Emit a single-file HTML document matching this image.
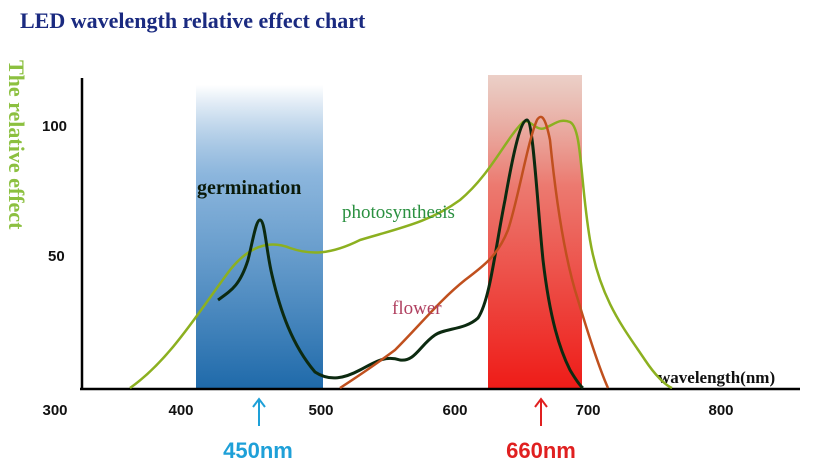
<!DOCTYPE html><html><head><style>body{margin:0;background:#fff}svg{display:block}</style></head><body>
<svg width="816" height="467" viewBox="0 0 816 467" xmlns="http://www.w3.org/2000/svg">
<defs>
<linearGradient id="b" x1="0" y1="0" x2="0" y2="1"><stop offset="0" stop-color="#3a80c0" stop-opacity="0"/><stop offset="0.3" stop-color="#6ea3d4" stop-opacity="0.8"/><stop offset="1" stop-color="#1f6aaa"/></linearGradient>
<linearGradient id="r" x1="0" y1="0" x2="0" y2="1"><stop offset="0" stop-color="#d8a090" stop-opacity="0.5"/><stop offset="0.35" stop-color="#ec7a70"/><stop offset="1" stop-color="#ee1c18"/></linearGradient>
</defs>
<rect width="816" height="467" fill="#fff"/>
<text x="20" y="28" font-family="Liberation Serif,serif" font-weight="bold" font-size="22" fill="#1a2a80">LED wavelength relative effect chart</text>
<text transform="translate(9,60) rotate(90)" font-family="Liberation Serif,serif" font-weight="bold" font-size="22" fill="#8cc040">The relative effect</text>
<rect x="196" y="85" width="127" height="303" fill="url(#b)"/>
<rect x="488" y="75" width="94" height="313" fill="url(#r)"/>
<line x1="82" y1="78" x2="82" y2="390" stroke="#000" stroke-width="2.5"/>
<line x1="80" y1="389" x2="800" y2="389" stroke="#000" stroke-width="2.5"/>
<g font-family="Liberation Sans,sans-serif" font-weight="bold" font-size="15" fill="#111">
<text x="42" y="131">100</text><text x="48" y="261">50</text>
<g text-anchor="middle"><text x="55" y="415">300</text><text x="181" y="415">400</text><text x="321" y="415">500</text><text x="455" y="415">600</text><text x="588" y="415">700</text><text x="721" y="415">800</text></g>
</g>
<text x="658" y="383" font-family="Liberation Serif,serif" font-weight="bold" font-size="17" fill="#111">wavelength(nm)</text>
<path d="M130,388 C170,360 200,310 230,270 C250,245 270,240 290,248 C310,255 330,255 360,240 C400,228 430,222 460,200 C490,175 505,140 523,122 C530,118 536,132 545,128 C555,124 560,118 570,122 C582,128 580,180 590,240 C600,300 625,330 645,360 C655,375 665,385 672,388" fill="none" stroke="#8cb020" stroke-width="2.5"/>
<path d="M218,300 C232,290 240,285 248,260 C253,240 256,220 260,220 C265,220 266,250 272,275 C280,310 292,345 315,372 C330,382 345,378 360,370 C375,362 385,355 400,360 C415,362 420,345 435,335 C445,328 465,330 478,318 C490,300 495,250 505,200 C512,160 520,120 527,120 C533,120 537,200 543,260 C550,320 560,350 570,370 C576,380 580,386 583,388" fill="none" stroke="#0c2a10" stroke-width="3"/>
<path d="M340,388 C360,375 375,365 395,350 C420,325 440,300 465,280 C485,265 498,255 508,230 C518,200 528,140 537,120 C542,112 546,120 550,140 C556,200 565,260 578,300 C590,340 600,370 608,388" fill="none" stroke="#c0501e" stroke-width="2.5"/>
<text x="197" y="194" font-family="Liberation Serif,serif" font-weight="bold" font-size="20" fill="#0a1a0a">germination</text>
<text x="342" y="218" font-family="Liberation Serif,serif" font-size="19" fill="#2a9040">photosynthesis</text>
<text x="392" y="314" font-family="Liberation Serif,serif" font-size="19" fill="#b04060">flower</text>
<g font-family="Liberation Sans,sans-serif" font-weight="bold" font-size="22">
<text x="258" y="458" text-anchor="middle" fill="#1ea0d8">450nm</text>
<text x="541" y="458" text-anchor="middle" fill="#e02020">660nm</text></g>
<path d="M259,426 V400 M253,407 L259,399 L265,407" stroke="#1ea0d8" stroke-width="2" fill="none"/>
<path d="M541,426 V400 M535,407 L541,399 L547,407" stroke="#e02020" stroke-width="2" fill="none"/>
</svg></body></html>
